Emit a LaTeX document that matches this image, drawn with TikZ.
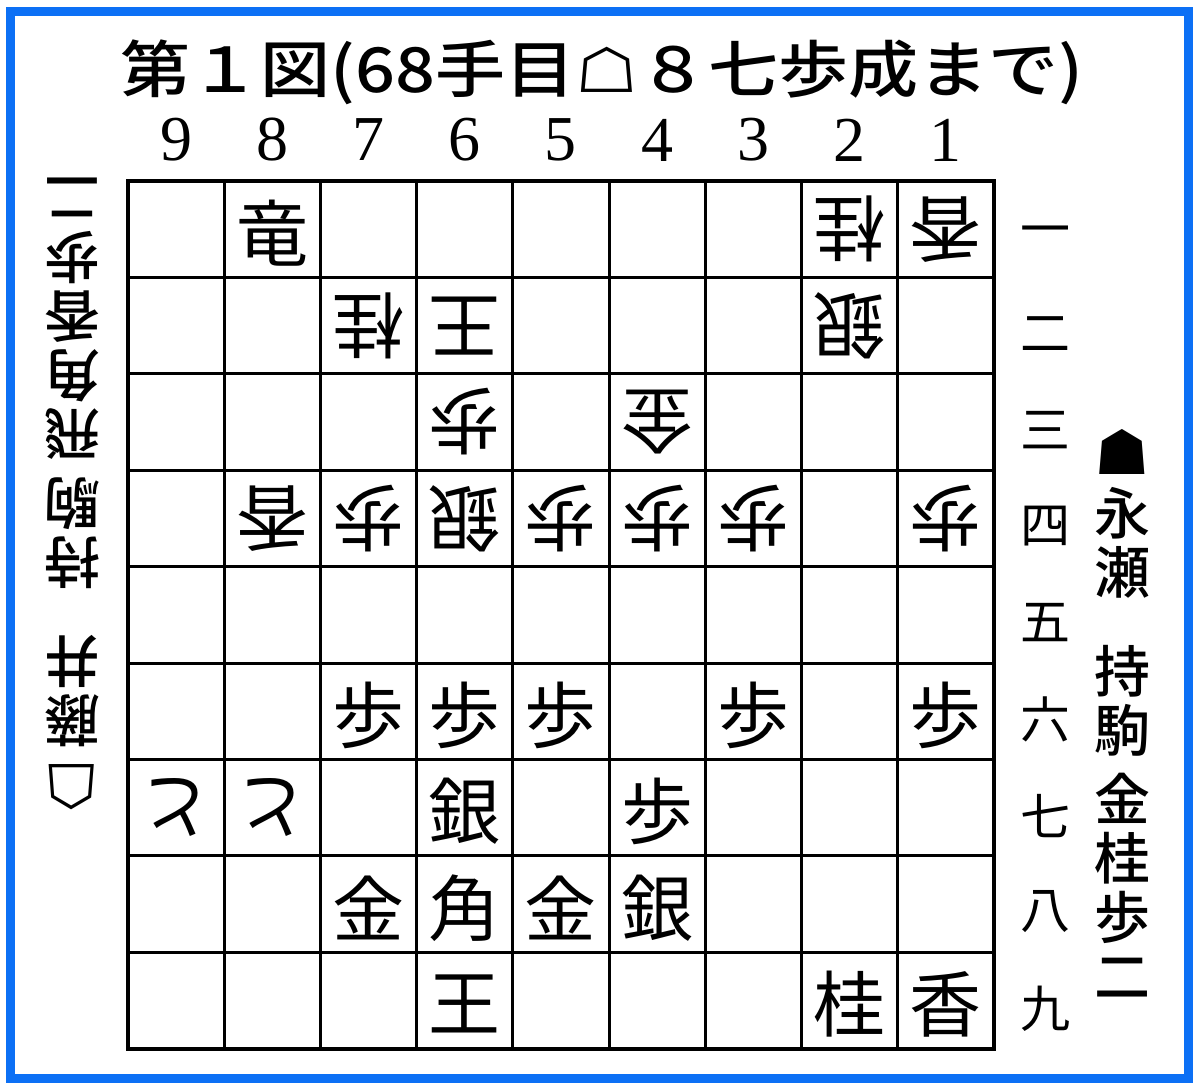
\documentclass[tikz,border=0pt]{standalone}
\usepackage{fontspec}
\setmainfont{Liberation Serif}
\newfontfamily\cjk{Noto Sans CJK JP}
\newfontfamily\cjkm{Noto Sans CJK JP Medium}
\newfontfamily\symf{DejaVu Sans}
\definecolor{frameblue}{RGB}{12,112,245}
\tikzset{
  frame-line/.style={draw=frameblue, line width=9pt},
  grid-line/.style={line width=3pt},
  board-edge/.style={line width=4.5pt, line join=miter},
  piece-up/.style={font=\cjk\fontsize{72}{72}\selectfont, inner sep=0pt},
  piece-down/.style={piece-up, rotate=180},
  file-num/.style={font=\fontsize{64}{64}\selectfont, inner sep=0pt},
  rank-num/.style={font=\cjk\fontsize{50}{50}\selectfont, inner sep=0pt},
  title-text/.style={font=\cjkm\fontsize{62}{62}\selectfont, inner sep=0pt, xscale=1.13},
  hand-text/.style={font=\cjkm\fontsize{56}{59}\selectfont, align=center, inner sep=0pt},
  hand-mark/.style={font=\symf\fontsize{62}{62}\selectfont, inner sep=0pt}
}
\newcommand{\cellw}{96.2}
\newcommand{\shogiboard}{
  \coordinate (board-nw) at (128,181);
  \coordinate (board-se) at (994,1049);
  \foreach \i in {1,...,8}{
    \draw[grid-line] (128+\i*\cellw,181) -- (128+\i*\cellw,1049);
    \draw[grid-line] (128,181+\i*96.4) -- (994,181+\i*96.4);
  }
  \draw[board-edge] (board-nw) rectangle (board-se);
}

\begin{document}
\begin{tikzpicture}[x=1pt,y=-1pt]
  \useasboundingbox (0,0) rectangle (1200,1091);
  \fill[white] (0,0) rectangle (1200,1091);
  \draw[frame-line] (10.5,12) rectangle (1188,1078);
  % title
  \node[title-text] (title) at (602,72) {第１図(68手目{\symf ☖}８七歩成まで)};
  \shogiboard
  % files and ranks
  \foreach \f in {1,...,9}{
    \node[file-num] (file\f) at ({128+(9.5-\f)*\cellw},140) {\f};
  }
  \foreach \r/\k in {1/一,2/二,3/三,4/四,5/五,6/六,7/七,8/八,9/九}{
    \node[rank-num] (rank\r) at (1045,{181+(\r-0.5)*96.4+8}) {\k};
  }
  % sente pieces
  \foreach \f/\r/\p in {8/1/竜,7/6/歩,6/6/歩,5/6/歩,3/6/歩,1/6/歩,6/7/銀,4/7/歩,
                        7/8/金,6/8/角,5/8/金,4/8/銀,6/9/王,2/9/桂,1/9/香}{
    \node[piece-up] (p\f\r) at ({128+(9.5-\f)*\cellw},{181+(\r-0.5)*96.4+4}) {\p};
  }
  % gote pieces
  \foreach \f/\r/\p in {2/1/桂,1/1/香,7/2/桂,6/2/王,2/2/銀,6/3/歩,4/3/金,8/4/香,
                        7/4/歩,6/4/銀,5/4/歩,4/4/歩,3/4/歩,1/4/歩,9/7/と,8/7/と}{
    \node[piece-down] (p\f\r) at ({128+(9.5-\f)*\cellw},{181+(\r-0.5)*96.4}) {\p};
  }
  % pieces in hand
  \node[hand-mark] (sente-mark) at (1122,452) {☗};
  \node[hand-text, anchor=north] (sente-hand) at (1122,487)
    {永\\瀬\\[40pt]持\\駒\\[10pt]金\\桂\\歩\\二};
  \node[hand-mark, rotate=180] (gote-mark) at (72,787) {☖};
  \node[hand-text, rotate=180, anchor=north] (gote-hand) at (72,747)
    {藤\\井\\[40pt]持\\駒\\[10pt]飛\\角\\香\\歩\\二};
\end{tikzpicture}
\end{document}
